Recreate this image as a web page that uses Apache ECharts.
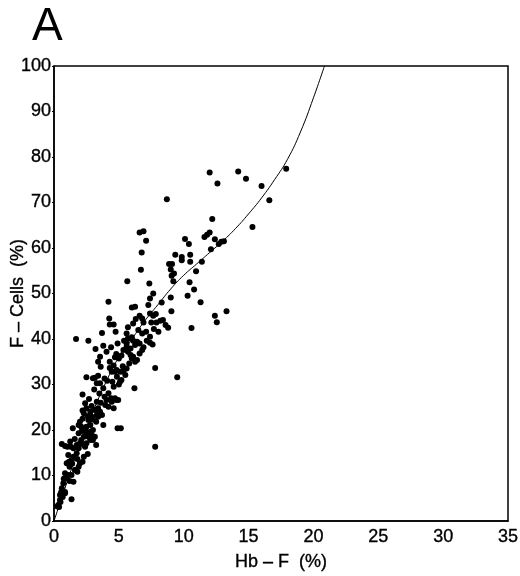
<!DOCTYPE html>
<html>
<head>
<meta charset="utf-8">
<script src="https://cdn.jsdelivr.net/npm/echarts@6/dist/echarts.min.js"></script>
<style>
html,body{margin:0;padding:0;background:#fff;}
#c{width:520px;height:576px;}
</style>
</head>
<body>
<div id="c"></div>
<script>
// Hb-F (%) values of the individual patients
const hbF = [
 12.0,14.2,14.8,12.6,17.9,16.0,16.6,8.7,12.2,15.3,6.9,6.6,7.1,10.1,10.4,11.6,11.8,12.0,12.4,12.7,12.9,13.1,
 12.1,6.76,9.35,9.85,9.85,10.5,10.5,11.4,8.87,9.1,9.0,9.25,9.07,9.2,10.95,10.45,10.8,6.7,5.65,7.35,7.65,
 10.3,9.0,11.3,8.3,9.05,12.4,13.3,7.4,7.27,4.2,6.0,6.25,7.4,7.65,7.85,6.6,6.8,4.26,
 12.55,10.6,7.5,7.9,8.2,8.4,8.6,8.05,7.4,6.9,6.1,4.3,4.6,6.5,6.8,7.1,3.7,4.75,5.6,6.0,5.7,1.7,
 7.15,7.4,7.6,6.1,6.4,6.6,6.25,2.65,5.6,5.6,5.9,5.7,5.35,5.9,6.1,6.4,6.25,6.0,4.05,4.8,4.7,5.0,3.55,3.4,4.3,
 7.8,4.3,4.45,4.7,5.1,5.35,5.5,4.85,5.2,4.5,3.6,3.15,2.5,9.5,3.3,3.55,3.4,3.0,4.83,5.09,
 3.8,3.1,2.2,4.2,4.4,4.45,4.7,4.8,4.95,4.05,3.95,6.2,2.4,
 2.5,2.8,2.3,3.15,3.4,3.55,3.7,3.4,3.3,2.9,3.0,3.25,2.65,2.8,2.5,2.0,1.9,2.1,1.45,3.8,4.9,5.15,2.4,3.0,4.2,4.6,
 2.5,2.8,2.9,2.65,3.15,2.3,2.1,2.0,2.3,2.5,2.4,1.75,1.5,1.9,0.6,0.85,1.3,3.25,2.8,3.0,7.8,1.03,
 1.75,1.5,1.35,1.1,0.98,2.0,1.9,1.2,1.6,0.85,1.1,0.98,1.35,1.5,0.72,0.6,0.85,0.46,1.35,0.46,0.33,0.26,0.85,0.67,2.3,2.2,1.67,1.8,1.16,0.5,0.39,
 2.2,2.6,2.9,3.6,3.9,3.5,4.6,5.0,4.1,3.9,4.6,5.3,5.6,5.8,6.6,6.8,6.9,5.2,5.4,3.8,3.2,1.9,2.15,1.6,1.25,1.8,2.6,1.4,0.75,1.2,0.55,3.3,2.7,2.2,5.7,7.7,8.8,6.3,4.9,4.4
];
// F-Cells (%) values of the same patients
const fCells = [
 76.6,76.8,75.2,74.2,77.4,73.6,70.5,70.7,66.4,64.6,63.7,63.4,61.6,62.0,60.9,62.4,62.9,63.4,61.9,60.9,61.4,61.5,
 59.7,59.0,58.5,58.0,57.3,58.5,57.0,57.0,56.5,56.5,55.3,54.4,53.9,52.7,54.9,52.5,50.9,55.2,52.7,52.2,50.0,
 49.5,49.1,48.1,48.0,46.1,45.1,46.1,48.9,47.5,48.2,46.9,47.1,45.6,45.1,45.5,45.1,44.5,44.5,
 43.7,42.4,43.6,43.6,44.0,44.2,43.1,41.6,40.5,43.6,43.4,43.2,43.2,42.0,41.2,41.6,41.3,41.6,41.2,40.4,40.1,40.0,
 39.6,39.2,38.8,39.6,39.4,39.0,38.7,39.6,39.0,38.3,37.9,37.2,37.6,36.5,36.1,35.4,35.0,35.7,37.2,36.7,36.0,35.7,36.1,35.0,35.0,
 33.6,33.6,32.8,32.8,32.8,32.8,32.1,31.7,31.0,30.6,33.9,31.5,31.6,31.6,30.3,30.3,31.9,31.4,33.2,30.6,
 29.2,28.9,27.8,28.1,27.0,26.2,27.0,26.6,26.6,26.6,25.5,29.2,25.9,
 24.8,24.0,23.7,24.4,24.8,24.0,23.3,22.9,23.3,22.9,22.3,21.8,22.2,21.1,20.7,21.8,21.1,20.7,20.4,21.1,20.4,20.4,20.0,20.0,25.1,24.8,
 19.3,19.6,18.9,18.5,18.5,18.5,17.8,17.1,16.7,17.1,16.3,16.7,16.0,16.0,16.9,16.5,16.3,16.7,17.8,17.8,16.3,16.3,
 14.9,14.1,13.4,14.5,12.7,12.7,11.9,11.9,11.2,10.5,10.1,9.4,10.1,8.6,8.3,7.2,6.4,5.7,4.8,4.6,3.5,3.2,6.1,5.3,14.1,13.0,11.2,10.8,13.0,4.2,3.1,
 22.5,23.0,25.3,26.0,27.3,28.0,29.5,30.0,30.8,31.3,34.2,34.0,33.5,34.6,36.8,37.6,38.2,36.4,39.6,38.5,37.8,19.3,19.8,18.0,17.5,13.6,14.7,12.6,9.3,8.8,6.3,26.2,26.8,24.3,42.6,42.2,42.5,44.4,39.0,38.2
];
// fitted curve
const curveX = [0, 1, 2, 3, 4, 5, 6, 7, 8, 9, 10, 11, 12, 13, 14, 15, 16, 17, 18, 19, 20, 20.85];
const curveY = [0, 8.5, 17, 24, 30.5, 36, 40, 44, 47.5, 51, 54, 56.5, 59, 61.5, 64.3, 67.5, 71, 75, 79.5, 85.5, 93, 100];
const xTicks = [0, 5, 10, 15, 20, 25, 30, 35];
const yTicks = [0, 10, 20, 30, 40, 50, 60, 70, 80, 90, 100];

const pts = hbF.map((x, i) => [x, fCells[i]]);
const curve = curveX.map((x, i) => [x, curveY[i]]);
const FONT = '"Liberation Sans", Arial, Helvetica, sans-serif';
const lbl = {fontFamily: FONT, fontSize: 18, color: '#000', textBorderColor: '#000', textBorderWidth: 0.35};

const chart = echarts.init(document.getElementById('c'), null, {renderer: 'canvas'});
chart.setOption({
  animation: false,
  backgroundColor: '#fff',
  title: {
    text: 'A', left: 27, top: -1,
    textStyle: {fontFamily: FONT, fontSize: 46, fontWeight: 'normal', color: '#000'}
  },
  grid: {left: 54, right: 12, top: 66, bottom: 55, containLabel: false, outerBoundsMode: 'none',
         show: true, borderColor: '#000', borderWidth: 1.5},
  xAxis: {
    type: 'value', min: 0, max: 35, interval: 5,
    name: 'Hb – F  (%)', nameLocation: 'middle', nameGap: 32, nameMoveOverlap: false,
    nameTextStyle: Object.assign({}, lbl),
    axisLine: {show: true, lineStyle: {color: '#000', width: 1.5}},
    axisTick: {show: false},
    splitLine: {show: false},
    axisLabel: Object.assign({margin: 7, formatter: v => xTicks.includes(v) ? String(v) : ''}, lbl)
  },
  yAxis: {
    type: 'value', min: 0, max: 100, interval: 10,
    name: 'F – Cells  (%)', nameLocation: 'middle', nameGap: 27, nameRotate: 90, nameMoveOverlap: false,
    nameTextStyle: Object.assign({}, lbl),
    axisLine: {show: true, lineStyle: {color: '#000', width: 1.5}},
    axisTick: {show: true, length: 2, inside: false, lineStyle: {color: '#000', width: 1}},
    splitLine: {show: false},
    axisLabel: Object.assign({margin: 3, formatter: v => yTicks.includes(v) ? String(v) : ''}, lbl)
  },
  series: [
    {type: 'line', data: curve, smooth: true, symbol: 'none',
     lineStyle: {color: '#000', width: 1}, z: 2},
    {type: 'scatter', data: pts, symbol: 'circle', symbolSize: 6,
     itemStyle: {color: '#000', opacity: 1}, z: 3}
  ]
});
</script>
</body>
</html>
